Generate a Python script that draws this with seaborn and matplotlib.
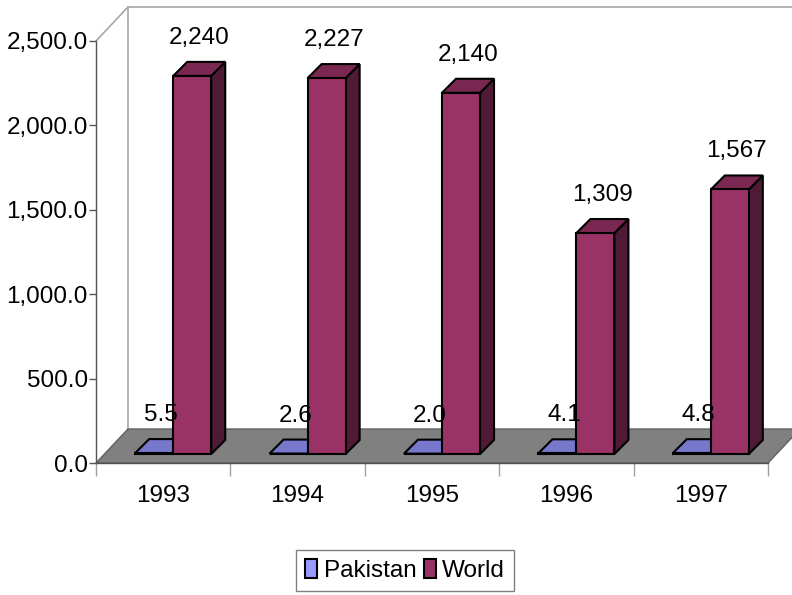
import numpy as np
import pandas as pd
import matplotlib
matplotlib.use("Agg")
import matplotlib.pyplot as plt
from matplotlib.patches import Polygon, Patch
from matplotlib.ticker import FixedLocator
from matplotlib.colors import to_hex
import seaborn as sns

# ---------------- data ----------------
years = ["1993", "1994", "1995", "1996", "1997"]
pakistan = [5.5, 2.6, 2.0, 4.1, 4.8]
world = [2240, 2227, 2140, 1309, 1567]
series = ["Pakistan", "World"]
yticks = [0, 500, 1000, 1500, 2000, 2500]
ytick_labels = ["0.0", "500.0", "1,000.0", "1,500.0", "2,000.0", "2,500.0"]
pakistan_labels = ["5.5", "2.6", "2.0", "4.1", "4.8"]
world_labels = ["2,240", "2,227", "2,140", "1,309", "1,567"]

# ---------------- style ----------------
sns.set_theme(style="white")
plt.rcParams["font.family"] = ["Liberation Sans", "DejaVu Sans"]
FS = 17.5
plt.rcParams["text.color"] = "black"
plt.rcParams["xtick.color"] = "black"
plt.rcParams["ytick.color"] = "black"

front_cols = {"Pakistan": "#9999FF", "World": "#993366"}
top_cols = {"Pakistan": "#7777CC", "World": "#7A2852"}
side_cols = {"Pakistan": "#4C4C80", "World": "#4E1A35"}

df = pd.DataFrame({
    "Year": years * 2,
    "Value": pakistan + world,
    "Series": [series[0]] * len(years) + [series[1]] * len(years),
})

W, H = 792, 595
fig = plt.figure(figsize=(W / 100, H / 100), dpi=100)
L, R_, T, B = 96, 768, 41, 463
ax = fig.add_axes([L / W, 1 - B / H, (R_ - L) / W, (B - T) / H])

sns.barplot(data=df, x="Year", y="Value", hue="Series", palette=front_cols,
            width=0.566, dodge=True, ax=ax, edgecolor="black", linewidth=1.5,
            legend=False, saturation=1)
ax.set_xlim(-0.5, 4.5)
ax.set_ylim(0, 2500)
ax.set_xlabel("")
ax.set_ylabel("")

pxx = (R_ - L) / 5.0
pxy = (B - T) / 2500.0
def dxd(px):
    return px / pxx
def dyd(px):
    return px / pxy

# floor and walls
DX, DY = dxd(32), dyd(34)
floor = Polygon([(-0.5, 0), (4.5, 0), (4.5 + DX, DY), (-0.5 + DX, DY)],
                closed=True, facecolor="#808080", edgecolor="#606060",
                linewidth=1, zorder=0.5, clip_on=False)
ax.add_patch(floor)
wall_c = "#a6a6a6"
ax.plot([-0.5 + DX, -0.5 + DX], [DY, 2500 + DY], color=wall_c, lw=1.2,
        clip_on=False, zorder=0.4)
ax.plot([-0.5 + DX, 6], [2500 + DY, 2500 + DY], color=wall_c, lw=1.2,
        clip_on=False, zorder=0.4)
ax.plot([-0.5, -0.5 + DX], [2500, 2500 + DY], color=wall_c, lw=1.2,
        clip_on=False, zorder=0.4)

# 3D look for seaborn bars
OFFX, OFFY = dxd(10), dyd(9)
ddx, ddy = dxd(14), dyd(14)
labels_map = {"Pakistan": pakistan_labels, "World": world_labels}
inv = {to_hex(v): k for k, v in front_cols.items()}
for p in list(ax.patches):
    if p is floor:
        continue
    key = inv.get(to_hex(p.get_facecolor()))
    if key is None:
        continue
    zb = 1.0 if key == "Pakistan" else 2.0
    x0 = p.get_x() + OFFX
    y0 = OFFY
    w = p.get_width()
    h = p.get_height()
    p.set_x(x0)
    p.set_y(y0)
    p.set_zorder(zb + 0.2)
    p.set_clip_on(False)
    top = Polygon([(x0, y0 + h), (x0 + w, y0 + h), (x0 + w + ddx, y0 + h + ddy),
                   (x0 + ddx, y0 + h + ddy)], closed=True,
                  facecolor=top_cols[key], edgecolor="black", linewidth=1.5,
                  zorder=zb + 0.1, clip_on=False, joinstyle="miter")
    side = Polygon([(x0 + w, y0), (x0 + w + ddx, y0 + ddy),
                    (x0 + w + ddx, y0 + h + ddy), (x0 + w, y0 + h)], closed=True,
                   facecolor=side_cols[key], edgecolor="black", linewidth=1.5,
                   zorder=zb + 0.1, clip_on=False, joinstyle="miter")
    ax.add_patch(side)
    ax.add_patch(top)
    idx = int(round(p.get_x() + w / 2 - OFFX))
    txt = labels_map[key][idx]
    ax.text(x0 + w / 2 + ddx / 2, y0 + h + ddy + dyd(18), txt,
            ha="center", va="baseline", fontsize=FS, zorder=5, clip_on=False)

for s in ["top", "right"]:
    ax.spines[s].set_visible(False)
ax.spines["left"].set_color("#555555")
ax.spines["left"].set_linewidth(1)
ax.spines["bottom"].set_color("#505050")
ax.spines["bottom"].set_linewidth(1)
ax.spines["bottom"].set_zorder(0.6)

ax.set_yticks(yticks)
ax.set_yticklabels(ytick_labels)
ax.tick_params(axis="y", left=True, direction="out", length=5, width=1,
               color="#555555", pad=1, labelsize=FS)
ax.set_xticks(range(len(years)))
ax.set_xticklabels(years)
ax.xaxis.set_minor_locator(FixedLocator(np.arange(-0.5, 5.0, 1.0)))
ax.tick_params(axis="x", which="major", bottom=True, length=0, pad=16,
               labelsize=FS)
ax.tick_params(axis="x", which="minor", bottom=True, length=9, width=1,
               color="#a0a0a0", direction="out")

handles = [Patch(facecolor=front_cols[s], edgecolor="black", linewidth=1.5,
                 label=s) for s in series]
leg = fig.legend(handles=handles, loc="center",
                 bbox_to_anchor=(405 / W, 1 - 570.5 / H), ncol=2,
                 frameon=True, fancybox=False, edgecolor="#808080",
                 framealpha=1, fontsize=FS, handlelength=0.5,
                 handleheight=0.8, handletextpad=0.25, columnspacing=0.3,
                 borderpad=0.38, borderaxespad=0)
leg.get_frame().set_linewidth(1)

fig.savefig("out.png", dpi=100, facecolor="white")
